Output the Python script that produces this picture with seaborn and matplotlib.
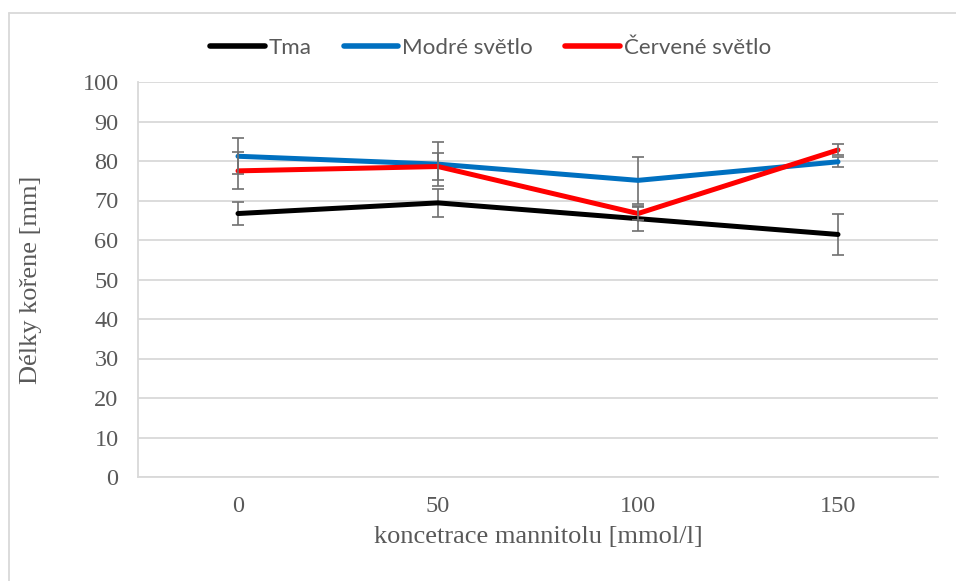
import numpy as np
import pandas as pd
import matplotlib
matplotlib.use("Agg")
import matplotlib.pyplot as plt
import seaborn as sns
from matplotlib.lines import Line2D

# === Data ===
concentrations = [0, 50, 100, 150]
series_names = ["Tma", "Modré světlo", "Červené světlo"]
tma = [66.7, 69.4, 65.4, 61.4]
tma_err = [2.8, 3.6, 3.2, 5.2]
modre = [81.2, 79.2, 75.1, 79.8]
modre_err = [4.5, 5.6, 5.9, 1.2]
cervene = [77.5, 78.6, 66.7, 82.8]
cervene_err = [4.7, 3.5, 1.6, 1.4]
colors = ["#000000", "#0070C0", "#FF0000"]

values = [tma, modre, cervene]
errors = [tma_err, modre_err, cervene_err]

df = pd.DataFrame({
    "konc": concentrations * 3,
    "delka": tma + modre + cervene,
    "serie": np.repeat(series_names, len(concentrations)),
})

# === Style ===
sns.set_theme(style="white")
grey_text = "#595959"
grid_col = "#D9D9D9"
serif = ["Liberation Serif", "DejaVu Serif"]

fig = plt.figure(figsize=(9.56, 5.81), dpi=100)
ax = fig.add_axes([138 / 956, 1 - 477 / 581, 800 / 956, 395 / 581])

# error bars first, lines on top
for i, name in enumerate(series_names):
    ax.errorbar(concentrations, values[i], yerr=errors[i], fmt="none",
                ecolor="#707070", elinewidth=1.2, capsize=4.3, capthick=1.2,
                zorder=2 + i, label="_nolegend_")

sns.lineplot(data=df, x="konc", y="delka", hue="serie", hue_order=series_names,
             palette=dict(zip(series_names, colors)), linewidth=3.6,
             solid_capstyle="round", legend=False, ax=ax, zorder=3)

ax.set_xlim(-25, 175)
ax.set_ylim(0, 100)
ax.set_xticks(concentrations)
ax.set_xticklabels([str(c) for c in concentrations])
ax.set_yticks(range(0, 101, 10))
ax.yaxis.grid(True, color=grid_col, linewidth=1.3)
ax.xaxis.grid(False)
ax.set_axisbelow(True)

for side in ["top", "right"]:
    ax.spines[side].set_visible(False)
for side in ["left", "bottom"]:
    ax.spines[side].set_color(grid_col)
    ax.spines[side].set_linewidth(1.3)

ax.tick_params(axis="both", length=0, labelsize=17.5, labelcolor=grey_text)
ax.tick_params(axis="y", pad=14)
ax.tick_params(axis="x", pad=13.5)
for lab in ax.get_xticklabels() + ax.get_yticklabels():
    lab.set_family(serif)

ax.set_xlabel("koncetrace mannitolu [mmol/l]", fontsize=19, color=grey_text,
              family=serif)
ax.set_ylabel("Délky kořene [mm]", fontsize=19, color=grey_text, family=serif)
ax.xaxis.set_label_coords(0.5, -0.152)
ax.xaxis.label.set_va("center")
ax.yaxis.set_label_coords(-0.134, 0.5)
ax.yaxis.label.set_va("center")

# === Legend ===
handles = [Line2D([0], [0], color=c, linewidth=4, solid_capstyle="round") for c in colors]
fig.legend(handles, series_names, loc="center", bbox_to_anchor=(0.513, 0.917),
           ncol=3, frameon=False, handlelength=2.45, handletextpad=0.18,
           columnspacing=1.43, prop={"family": ["Lato", "DejaVu Sans"], "size": 16.1},
           labelcolor=grey_text)

# chart frame (cropped at right and bottom)
fig.add_artist(Line2D([9 / 956, 1], [1 - 13 / 581, 1 - 13 / 581],
                      transform=fig.transFigure, color=grid_col, linewidth=1.3))
fig.add_artist(Line2D([9 / 956, 9 / 956], [0, 1 - 13 / 581],
                      transform=fig.transFigure, color=grid_col, linewidth=1.3))

fig.savefig("out.png", dpi=100, facecolor="white")
